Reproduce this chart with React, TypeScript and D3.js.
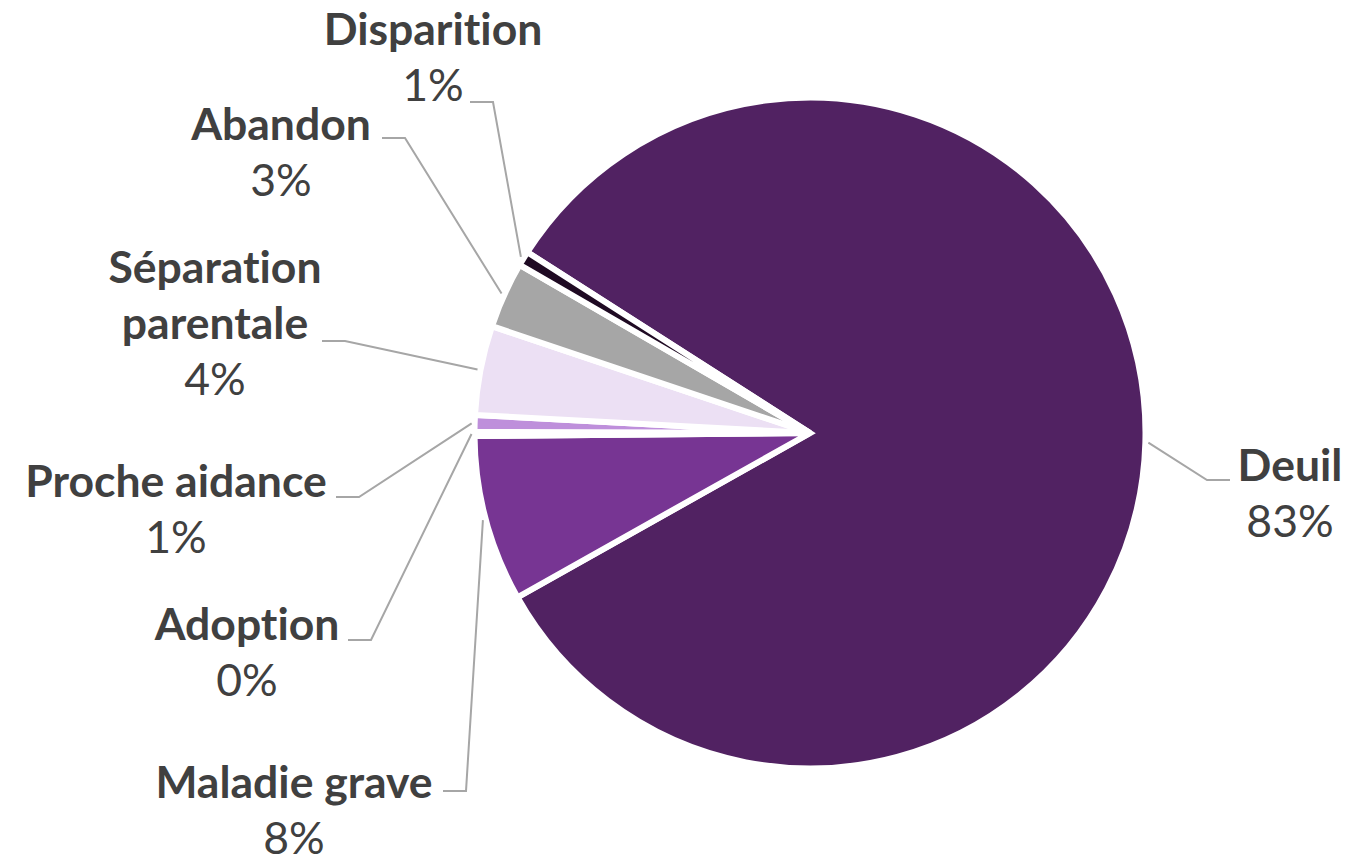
import React from "react";
import * as d3 from "d3";

// ---- data ----
const categories = [
  "Deuil",
  "Maladie grave",
  "Adoption",
  "Proche aidance",
  "Séparation parentale",
  "Abandon",
  "Disparition",
];
const values = [82.8, 8.0, 0.2, 0.8, 4.3, 3.2, 0.7];
const percentLabels = ["83%", "8%", "0%", "1%", "4%", "3%", "1%"];
const nameLines = [
  ["Deuil"],
  ["Maladie grave"],
  ["Adoption"],
  ["Proche aidance"],
  ["Séparation", "parentale"],
  ["Abandon"],
  ["Disparition"],
];
const colors = [
  "#512262",
  "#773593",
  "#9B5CB8",
  "#BE8FDB",
  "#ECE0F4",
  "#A6A6A6",
  "#1F0A23",
];

// ---- layout (label placement, like manually positioned Excel labels) ----
// cx: text centre, by: first baseline, lx/ly: leader end near label, dir: side of elbow
const labelLayout = [
  { cx: 1290, by: 481, lx: 1230, ly: 480, dir: -1 },
  { cx: 294, by: 798, lx: 443, ly: 791, dir: 1 },
  { cx: 247, by: 640, lx: 348, ly: 640, dir: 1 },
  { cx: 176, by: 497, lx: 336, ly: 497, dir: 1 },
  { cx: 215, by: 283, lx: 322, ly: 341, dir: 1 },
  { cx: 281, by: 140, lx: 382, ly: 138, dir: 1 },
  { cx: 433, by: 45, lx: 470, ly: 102, dir: 1 },
];

const W = 1346;
const H = 864;
const CX = 810;
const CY = 433;
const R = 335.5;
const START = (302.6 * Math.PI) / 180;
const LINE_H = 56;
const FONT = "Lato, 'Open Sans', sans-serif";
const FS = 44.5;
const ELBOW = 23;

export default function App() {
  const pie = d3
    .pie<number>()
    .sort(null)
    .value((d) => d)
    .startAngle(START)
    .endAngle(START + 2 * Math.PI);
  const arcs = pie(values);
  const arc = d3.arc<d3.PieArcDatum<number>>().innerRadius(0).outerRadius(R);

  return (
    <svg
      width={W}
      height={H}
      style={{ position: "absolute", left: 0, top: 0, background: "#fff" }}
    >
      <g transform={`translate(${CX},${CY})`}>
        {arcs.map((a, i) => (
          <path
            key={categories[i]}
            d={arc(a) || ""}
            fill={colors[i]}
            stroke="#fff"
            strokeWidth={6}
            strokeLinejoin="miter"
          />
        ))}
      </g>
      {arcs.map((a, i) => {
        const L = labelLayout[i];
        const mid = (a.startAngle + a.endAngle) / 2;
        const sx = CX + (R + 3) * Math.sin(mid);
        const sy = CY - (R + 3) * Math.cos(mid);
        const ex = L.lx + L.dir * ELBOW;
        const pts = `${sx},${sy} ${ex},${L.ly} ${L.lx},${L.ly}`;
        return (
          <polyline
            key={"l" + i}
            points={pts}
            fill="none"
            stroke="#A6A6A6"
            strokeWidth={2}
          />
        );
      })}
      {nameLines.map((lines, i) => {
        const L = labelLayout[i];
        return (
          <text
            key={"t" + i}
            textAnchor="middle"
            fontFamily={FONT}
            fontSize={FS}
            fill="#404040"
            style={{ fontVariantLigatures: "none", fontFeatureSettings: '"liga" 0' }}
          >
            {lines.map((ln, j) => (
              <tspan key={j} x={L.cx} y={L.by + j * LINE_H} fontWeight="bold">
                {ln}
              </tspan>
            ))}
            <tspan x={L.cx} y={L.by + lines.length * LINE_H}>
              {percentLabels[i]}
            </tspan>
          </text>
        );
      })}
    </svg>
  );
}
